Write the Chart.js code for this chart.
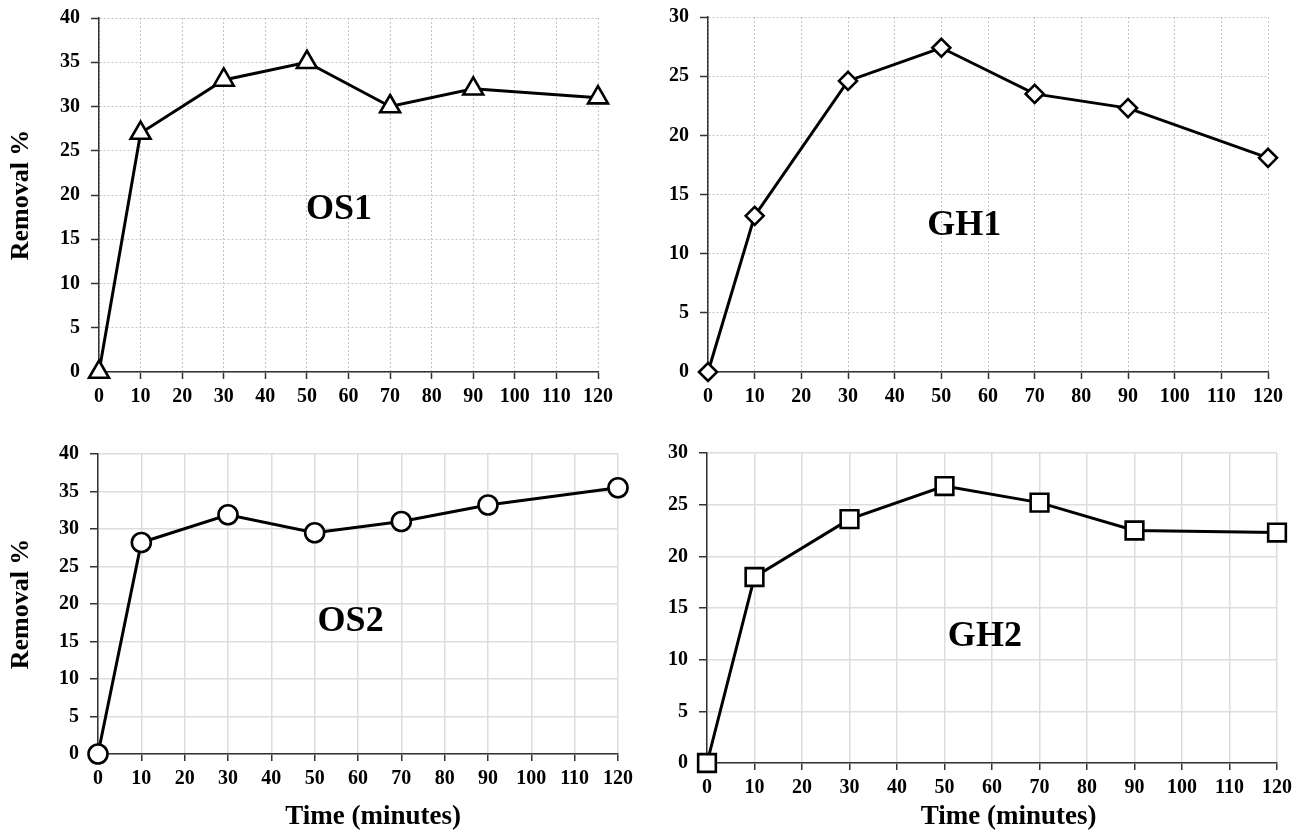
<!DOCTYPE html>
<html>
<head>
<meta charset="utf-8">
<script src="https://cdn.jsdelivr.net/npm/chart.js@4.4.1/dist/chart.umd.min.js"></script>
<style>
  body { margin: 0; background: #fff; }
  canvas { position: absolute; }
</style>
</head>
<body>
<canvas id="cOS1" width="640" height="420" style="left:0px;top:0px"></canvas>
<canvas id="cGH1" width="644" height="420" style="left:660px;top:0px"></canvas>
<canvas id="cOS2" width="650" height="414" style="left:0px;top:420px"></canvas>
<canvas id="cGH2" width="644" height="414" style="left:660px;top:420px"></canvas>
<script>
// -------------------------
// Data
// -------------------------
const tempos = [0, 10, 30, 50, 70, 90, 120];
const os1 = [0, 27.0, 33.0, 35.0, 30.0, 32.0, 31.0];
const gh1 = [0, 13.2, 24.6, 27.4, 23.5, 22.3, 18.1];
const os2 = [0, 28.2, 31.9, 29.5, 31.0, 33.2, 35.5];
const gh2 = [0, 18.0, 23.6, 26.8, 25.2, 22.5, 22.3];

const ticksX = [0, 10, 20, 30, 40, 50, 60, 70, 80, 90, 100, 110, 120];
const ticksY40 = [0, 5, 10, 15, 20, 25, 30, 35, 40];
const ticksY30 = [0, 5, 10, 15, 20, 25, 30];

const FONTE = "'Liberation Serif', 'Times New Roman', serif";

// -------------------------
// Panel name inside the plot + x title (Excel centres it a bit right of the plot)
// -------------------------
const rotuloPlugin = {
  id: "rotulo",
  beforeDatasetsDraw(chart, args, opts) {
    const { ctx, scales } = chart;
    ctx.save();
    ctx.font = "bold 36px " + FONTE;
    ctx.fillStyle = "#000";
    ctx.textAlign = "center";
    ctx.textBaseline = "middle";
    ctx.fillText(opts.texto, scales.x.getPixelForValue(opts.x), scales.y.getPixelForValue(opts.y));
    ctx.restore();
  },
  afterDraw(chart, args, opts) {
    if (!opts.tituloX) return;
    const { ctx, scales } = chart;
    ctx.save();
    ctx.font = "bold 27px " + FONTE;
    ctx.fillStyle = "#000";
    ctx.textAlign = "center";
    ctx.textBaseline = "middle";
    ctx.fillText(opts.tituloX, scales.x.getPixelForValue(opts.centroX), chart.height - 17);
    ctx.restore();
  }
};

function criarGrafico(id, cfg) {
  const grade = cfg.linhaCima
    ? { color: "#c4c4c4", lineWidth: 1, dash: [2, 2] }
    : { color: "#dddddd", lineWidth: 1.5, dash: [] };

  return new Chart(document.getElementById(id), {
    type: "line",
    data: {
      datasets: [{
        data: tempos.map((t, i) => ({ x: t, y: cfg.valores[i] })),
        borderColor: "#000",
        borderWidth: 3,
        tension: 0,
        clip: false,
        pointStyle: cfg.marcador,
        pointRadius: cfg.raio,
        pointHoverRadius: cfg.raio,
        pointBorderWidth: 2.6,
        pointBorderColor: "#000",
        pointBackgroundColor: "#fff"
      }]
    },
    plugins: [rotuloPlugin],
    options: {
      responsive: false,
      animation: false,
      events: [],
      layout: { padding: cfg.padding },
      plugins: {
        legend: { display: false },
        tooltip: { enabled: false },
        rotulo: cfg.rotulo
      },
      scales: {
        x: {
          type: "linear",
          min: 0,
          max: 120,
          afterBuildTicks: s => { s.ticks = ticksX.map(v => ({ value: v })); },
          afterFit: s => { s.height = cfg.alturaX; s.paddingLeft = 0; s.paddingRight = 0; },
          ticks: { color: "#000", padding: 6, font: { family: FONTE, size: 20, weight: "bold" } },
          grid: { color: grade.color, lineWidth: grade.lineWidth, tickColor: "#333", tickLength: 7, tickWidth: 1.5 },
          border: { color: "#333", width: 1.5, dash: grade.dash }
        },
        y: {
          min: 0,
          max: cfg.maxY,
          afterBuildTicks: s => { s.ticks = cfg.ticksY.map(v => ({ value: v })); },
          afterFit: s => { s.width = cfg.larguraY; s.paddingTop = 0; s.paddingBottom = 0; },
          ticks: { color: "#000", padding: 11, font: { family: FONTE, size: 20, weight: "bold" } },
          grid: { color: grade.color, lineWidth: grade.lineWidth, tickColor: "#333", tickLength: 8, tickWidth: 1.5 },
          border: { color: "#333", width: 1.5, dash: grade.dash },
          title: {
            display: !!cfg.tituloY,
            text: "Removal %",
            color: "#000",
            padding: { top: 6, bottom: 0 },
            font: { family: FONTE, size: 26, weight: "bold" }
          }
        }
      }
    }
  });
}

// -------------------------
// The four panels
// -------------------------
criarGrafico("cOS1", {
  valores: os1, marcador: "triangle", raio: 11.5, maxY: 40, ticksY: ticksY40,
  padding: { left: 0, top: 18, right: 42, bottom: 0 }, larguraY: 99, alturaX: 48,
  tituloY: true, linhaCima: true,
  rotulo: { texto: "OS1", x: 57.7, y: 18.3 }
});

criarGrafico("cGH1", {
  valores: gh1, marcador: "rectRot", raio: 9, maxY: 30, ticksY: ticksY30,
  padding: { left: 0, top: 17, right: 36, bottom: 0 }, larguraY: 48, alturaX: 48,
  tituloY: false, linhaCima: true,
  rotulo: { texto: "GH1", x: 54.9, y: 12.4 }
});

criarGrafico("cOS2", {
  valores: os2, marcador: "circle", raio: 9.5, maxY: 40, ticksY: ticksY40,
  padding: { left: 0, top: 34, right: 32, bottom: 0 }, larguraY: 98, alturaX: 80,
  tituloY: true, linhaCima: false,
  rotulo: { texto: "OS2", x: 58.3, y: 17.7, tituloX: "Time (minutes)", centroX: 63.5 }
});

criarGrafico("cGH2", {
  valores: gh2, marcador: "rect", raio: 12.5, maxY: 30, ticksY: ticksY30,
  padding: { left: 0, top: 33, right: 27, bottom: 0 }, larguraY: 47, alturaX: 71,
  tituloY: false, linhaCima: false,
  rotulo: { texto: "GH2", x: 58.5, y: 12.2, tituloX: "Time (minutes)", centroX: 63.5 }
});
</script>
</body>
</html>
